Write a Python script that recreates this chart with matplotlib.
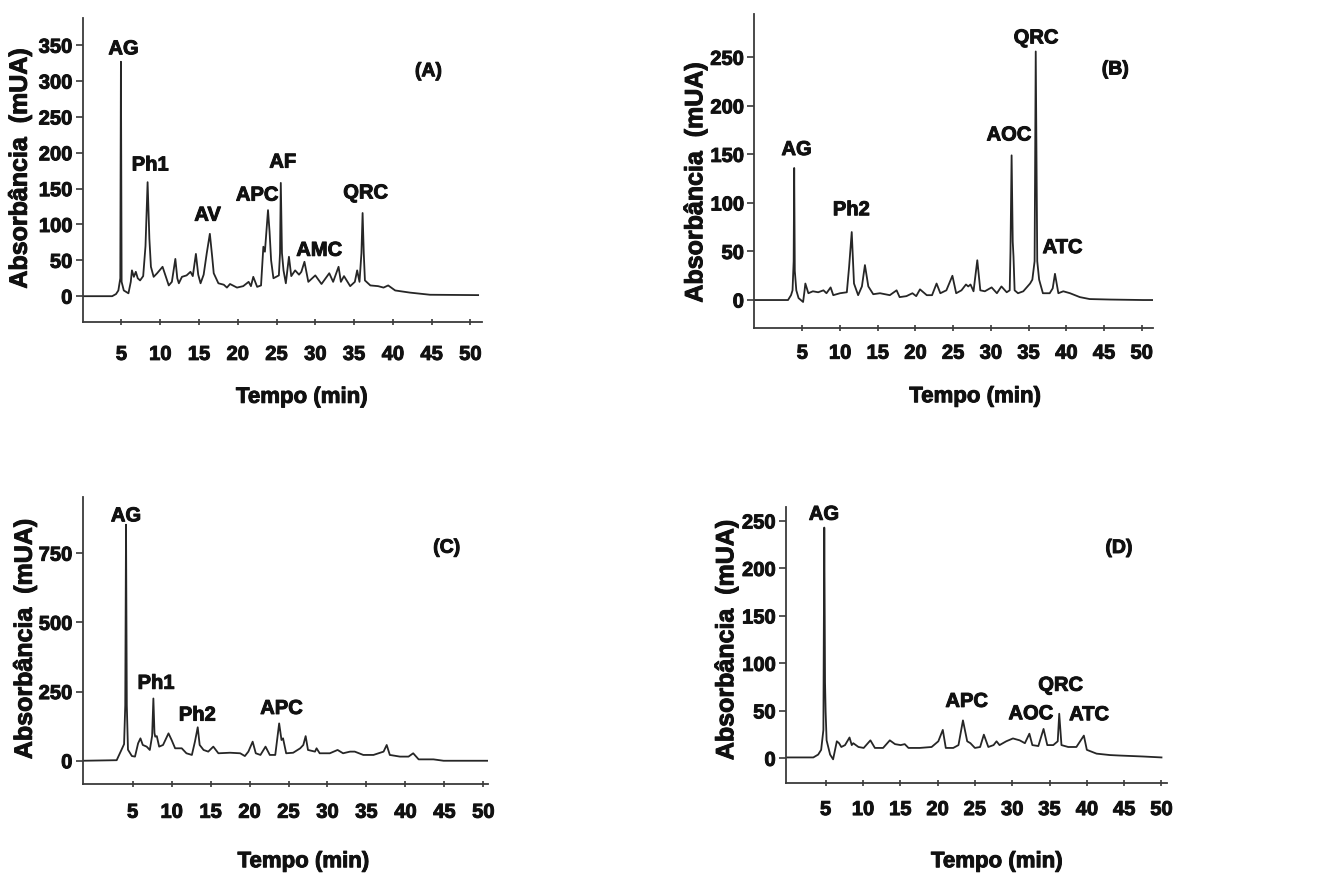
import matplotlib
matplotlib.use("Agg")
import matplotlib.pyplot as plt
import matplotlib.patheffects as pe

plt.rcParams['font.family'] = ['Liberation Sans', 'DejaVu Sans']
plt.rcParams['font.weight'] = 'bold'

# ---- chromatogram traces (time in min, absorbance in mUA) ----
t_a = [0, 3.8, 4.3, 4.6, 4.85, 4.93, 5.02, 5.3, 5.9, 6.2, 6.35, 6.6, 6.85, 7.1, 7.4, 7.8, 8.1, 8.37, 8.6,
       8.8, 9.15, 9.6, 10.3, 10.7, 11.1, 11.5, 11.95, 12.2, 12.4, 12.8, 13.4, 13.9, 14.2, 14.6, 14.9, 15.2,
       15.6, 16.0, 16.4, 16.7, 16.9, 17.5, 18.2, 18.6, 19.0, 19.9, 20.7, 21.4, 21.7, 22.0, 22.5, 23.0, 23.3,
       23.5, 23.9, 24.1, 24.3, 24.6, 25.3, 25.45, 25.55, 25.7, 25.9, 26.2, 26.6, 26.9, 27.4, 27.9, 28.2,
       28.6, 29.1, 30.0, 30.8, 31.8, 32.3, 32.8, 33.0, 33.3, 33.7, 34.5, 35.1, 35.4, 35.7, 35.95, 36.1,
       36.25, 36.4, 37.1, 38.1, 38.8, 39.4, 40.3, 42.2, 44.8, 51.0]
abs_a = [0, 0, 3, 8, 25, 327, 20, 8, 4, 20, 36, 27, 34, 25, 22, 28, 70, 159, 80,
         41, 27, 32, 41, 28, 15, 20, 52, 25, 18, 27, 29, 34, 28, 59, 30, 18,
         30, 60, 87, 55, 32, 18, 16, 12, 17, 12, 14, 20, 14, 27, 13, 15, 69,
         62, 120, 90, 50, 25, 29, 60, 158, 60, 36, 18, 55, 28, 36, 30, 34,
         48, 20, 29, 17, 32, 20, 35, 41, 20, 28, 14, 20, 36, 20, 60, 116,
         60, 22, 15, 14, 12, 15, 8, 5, 2, 1.5]

t_b = [-1.4, 3.1, 3.5, 3.7, 3.85, 3.92, 4.0, 4.2, 4.5, 5.1, 5.3, 5.4, 5.8, 6.4, 7.1, 7.8, 8.2, 8.75, 9.1,
       10.0, 10.9, 11.2, 11.55, 11.85, 12.4, 12.9, 13.3, 13.75, 14.4, 15.3, 16.6, 17.5, 17.9, 18.8, 19.6,
       20.1, 20.6, 21.5, 22.2, 22.8, 23.3, 24.1, 24.9, 25.4, 26.1, 26.7, 27.0, 27.3, 27.7, 28.2, 28.6,
       29.2, 30.1, 30.8, 31.4, 32.1, 32.5, 32.6, 32.75, 32.9, 33.0, 33.15, 33.6, 34.3, 35.2, 35.5, 35.8,
       35.95, 36.15, 36.4, 36.9, 37.8, 38.2, 38.5, 38.95, 39.6, 40.5, 41.8, 43.1, 45.8, 50.2, 51.5]
abs_b = [0, 0, 5, 10, 40, 136, 30, 10, 2, -2, 10, 17, 7, 9, 8, 10, 7, 13, 5,
         7, 8, 34, 70, 17, 5, 14, 36, 14, 6, 7, 5, 10, 3, 4, 7,
         4, 11, 5, 5, 17, 7, 10, 25, 7, 10, 16, 14, 16, 9, 41, 10,
         9, 13, 7, 14, 8, 10, 50, 149, 60, 45, 10, 7, 9, 17, 21, 40,
         256, 40, 21, 7, 7, 12, 27, 7, 9, 7, 3, 1, 0.5, 0, 0]

t_c = [-1.4, 2.95, 3.46, 3.9, 4.05, 4.15, 4.25, 4.4, 4.9, 5.3, 5.7, 6.0, 6.3, 6.8, 7.2, 7.5, 7.66, 7.8,
       7.9, 8.1, 8.4, 8.9, 9.6, 10.0, 10.45, 11.3, 11.9, 12.6, 13.0, 13.35, 13.6, 14.1, 14.7, 15.35, 16.0,
       17.5, 18.8, 19.4, 19.85, 20.4, 20.8, 21.4, 22.05, 22.6, 23.3, 23.8, 24.1, 24.3, 24.7, 25.6, 26.5,
       26.9, 27.2, 27.5, 28.4, 28.6, 29.0, 30.3, 31.3, 32.0, 32.9, 33.5, 34.6, 35.9, 37.2, 37.6, 38.0,
       39.3, 40.4, 41.0, 41.7, 43.6, 44.9, 50.6]
abs_c = [0, 2, 33, 60, 200, 853, 200, 40, 17, 15, 63, 81, 57, 51, 39, 90, 225, 100,
         87, 89, 51, 57, 99, 75, 45, 45, 27, 21, 70, 121, 57, 39, 33, 51, 27,
         29, 27, 17, 33, 69, 27, 21, 51, 21, 21, 135, 75, 81, 27, 29, 45,
         57, 89, 39, 33, 45, 27, 27, 39, 27, 33, 33, 21, 21, 33, 57, 21,
         15, 15, 27, 5, 5, 0, 0]

t_d = [-0.3, 3.35, 4.0, 4.4, 4.7, 4.82, 4.92, 5.0, 5.13, 5.6, 6.0, 6.5, 6.8, 7.1, 7.6, 8.2, 8.5, 8.7, 9.4,
       10.1, 11.0, 11.6, 12.7, 13.6, 14.3, 15.05, 15.6, 16.1, 17.6, 19.2, 20.1, 20.7, 21.1, 22.1, 22.8,
       23.4, 23.97, 24.4, 25.0, 25.7, 26.2, 26.8, 27.5, 27.9, 28.3, 29.2, 30.1, 31.0, 31.7, 32.3, 32.7,
       33.5, 34.2, 34.7, 35.5, 36.1, 36.3, 36.6, 37.5, 38.6, 39.6, 40.0, 41.3, 43.1, 44.4, 47.5, 50.0]
abs_d = [1, 1, 4, 9, 30, 243, 80, 49, 19, 4, -1, 18, 16, 12, 14, 22, 14, 16, 12,
         11, 19, 11, 11, 19, 15, 14, 15, 11, 11, 12, 18, 30, 11, 11, 14,
         40, 18, 16, 11, 12, 25, 12, 14, 18, 14, 18, 21, 19, 16, 26, 14,
         13, 31, 14, 14, 18, 47, 14, 12, 12, 24, 9, 5, 3.5, 3, 2, 1]

# peak labels: (text, time, absorbance)
peaks_a = [("AG", 5.27, 345), ("Ph1", 8.7, 183), ("AV", 16.1, 113), ("APC", 22.5, 141),
           ("AF", 25.8, 187), ("AMC", 30.5, 64), ("QRC", 36.5, 144)]
peaks_b = [("AG", 4.24, 155), ("Ph2", 11.5, 93), ("AOC", 32.4, 170), ("QRC", 36.0, 270),
           ("ATC", 39.5, 54)]
peaks_c = [("AG", 4.15, 885), ("Ph1", 8.0, 280), ("Ph2", 13.3, 165), ("APC", 24.1, 189)]
peaks_d = [("AG", 4.78, 257), ("APC", 23.9, 60), ("AOC", 32.5, 47), ("QRC", 36.5, 77),
           ("ATC", 40.3, 46)]

x_ticks = [5, 10, 15, 20, 25, 30, 35, 40, 45, 50]
y_ticks_a = [0, 50, 100, 150, 200, 250, 300, 350]
y_ticks_b = [0, 50, 100, 150, 200, 250]
y_ticks_c = [0, 250, 500, 750]
y_ticks_d = [0, 50, 100, 150, 200, 250]

W, H = 1341, 875
fig = plt.figure(figsize=(W / 100, H / 100), dpi=100)

# scanned print looks heavier than plain bold
heavy = [pe.withStroke(linewidth=0.7, foreground='#111111')]


def px_axes(left, top, right, bottom):
    return fig.add_axes([left / W, 1 - bottom / H, (right - left) / W, (bottom - top) / H])


def draw_panel(ax, t, y, peaks, yticks, xlim, ylim, tag, tag_pos, xpad):
    ax.plot(t, y, color='#262626', lw=1.3)
    ax.set_xlim(*xlim)
    ax.set_ylim(*ylim)
    ax.set_xticks(x_ticks)
    ax.set_yticks(yticks)
    for s in ['top', 'right']:
        ax.spines[s].set_visible(False)
    for s in ['left', 'bottom']:
        ax.spines[s].set_color('#3a3a3a')
        ax.spines[s].set_linewidth(1.3)
    ax.tick_params(axis='y', direction='out', length=5, width=1.2, color='#3a3a3a',
                   labelsize=14.5, pad=2.5, labelcolor='#111111')
    ax.tick_params(axis='x', direction='inout', length=5, width=1.2, color='#3a3a3a',
                   labelsize=14.5, pad=xpad, labelcolor='#111111')
    for lab in ax.get_xticklabels() + ax.get_yticklabels():
        lab.set_fontweight('bold')
        lab.set_path_effects(heavy)
    for name, tx, ty in peaks:
        ax.text(tx, ty, name, ha='center', va='center', fontsize=14.5, fontweight='bold',
                color='#111111', path_effects=heavy)
    ax.text(tag_pos[0], tag_pos[1], tag, ha='center', va='center', fontsize=14, fontweight='bold',
            color='#111111', path_effects=heavy)


ax_a = px_axes(82.7, 18, 482, 322)
draw_panel(ax_a, t_a, abs_a, peaks_a, y_ticks_a, (0, 51.5), (-36, 388), "(A)", (44.6, 313), 14)

ax_b = px_axes(754.3, 14, 1153, 327.7)
draw_panel(ax_b, t_b, abs_b, peaks_b, y_ticks_b, (-1.37, 51.5), (-28.5, 294.6), "(B)", (46.5, 237), 9)

ax_c = px_axes(82.7, 497.3, 488, 784)
draw_panel(ax_c, t_c, abs_c, peaks_c, y_ticks_c, (-1.41, 50.6), (-84, 952), "(C)", (45.3, 768), 11)

ax_d = px_axes(786, 506.7, 1166.7, 782.7)
draw_panel(ax_d, t_d, abs_d, peaks_d, y_ticks_d, (-0.31, 50.7), (-25.6, 265), "(D)", (44.3, 221), 10)

# axis titles, placed in pixel positions
ylab_pos = [(19.5, 168.5), (695, 182.5), (24.5, 639), (726, 640)]
xlab_pos = [(301.7, 397.3), (975, 396.7), (303.3, 861.7), (996.7, 861.7)]
for (x, y) in ylab_pos:
    fig.text(x / W, 1 - y / H, "Absorbância  (mUA)", rotation=90, ha='center', va='center',
             fontsize=18, fontweight='bold', color='#111111', path_effects=heavy)
for (x, y) in xlab_pos:
    fig.text(x / W, 1 - y / H, "Tempo (min)", ha='center', va='center',
             fontsize=16, fontweight='bold', color='#111111', path_effects=heavy)

fig.savefig("out.png", dpi=100)
